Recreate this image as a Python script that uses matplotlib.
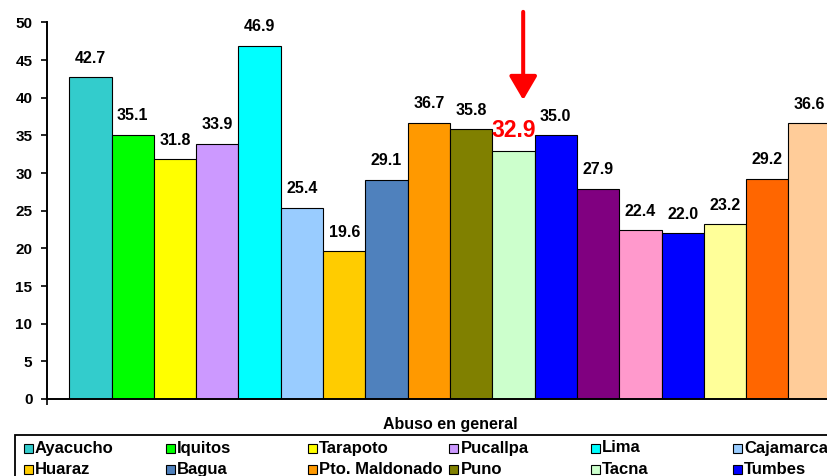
import matplotlib.pyplot as plt
from matplotlib.patches import Rectangle

plt.rcParams['font.family'] = ['Liberation Sans', 'DejaVu Sans']
plt.rcParams['font.weight'] = 'bold'

# Data: one category ("Abuso en general"), 18 cities as series
cities = ['Ayacucho', 'Iquitos', 'Tarapoto', 'Pucallpa', 'Lima', 'Cajamarca',
          'Huaraz', 'Bagua', 'Pto. Maldonado', 'Puno', 'Tacna', 'Tumbes']
values = [42.7, 35.1, 31.8, 33.9, 46.9, 25.4, 19.6, 29.1, 36.7, 35.8, 32.9, 35.0,
          27.9, 22.4, 22.0, 23.2, 29.2, 36.6]
colors = ['#33CCCC', '#00FF00', '#FFFF00', '#CC99FF', '#00FFFF', '#99CCFF',
          '#FFCC00', '#4F81BD', '#FF9900', '#808000', '#CCFFCC', '#0000FF',
          '#800080', '#FF99CC', '#0000FF', '#FFFF99', '#FF6600', '#FFCC99']
highlight = 10  # Tacna
yticks = [0, 5, 10, 15, 20, 25, 30, 35, 40, 45, 50]

W, H = 827, 476
fig = plt.figure(figsize=(W / 100, H / 100), dpi=100)
# axes runs past the right edge of the figure, like the cropped original
ax = fig.add_axes([46.7 / W, 77 / H, 806.6 / W, 376.6 / H])

xs = list(range(len(values)))
ax.bar(xs, values, width=1.0, color=colors, edgecolor='black', linewidth=0.8)

for i, v in enumerate(values):
    if i == highlight:
        ax.annotate(f'{v:.1f}', (i, v), xytext=(0, 10.5), textcoords='offset points',
                    ha='center', va='baseline', fontsize=16.5, color='red',
                    fontweight='bold', annotation_clip=False)
    else:
        ax.annotate(f'{v:.1f}', (i, v), xytext=(0, 10.5), textcoords='offset points',
                    ha='center', va='baseline', fontsize=11.5, color='black',
                    fontweight='bold', annotation_clip=False)

# red arrow pointing at Tacna
ax.annotate('', xy=(highlight + 0.23, 39.7), xytext=(highlight + 0.23, 51.4),
            arrowprops=dict(arrowstyle='-|>,head_length=1.45,head_width=0.85',
                            color='red', lw=2.9, shrinkA=0, shrinkB=0),
            annotation_clip=False)

xmin = -1.034
ax.set_xlim(xmin, 18.034)
ax.set_ylim(0, 50)
ax.set_yticks(yticks)
ax.set_xticks([xmin])
ax.set_xticklabels([])
ax.tick_params(axis='y', direction='out', length=4.3, width=1.2, pad=6,
               labelsize=11, labelcolor='black')
ax.tick_params(axis='x', direction='out', length=4.3, width=1.2)
for lab in ax.get_yticklabels():
    lab.set_fontweight('bold')
for s in ['top', 'right']:
    ax.spines[s].set_visible(False)
for s in ['left', 'bottom']:
    ax.spines[s].set_linewidth(1.4)

fig.text(450 / W, 1 - 425 / H, 'Abuso en general', ha='center', va='center',
         fontsize=11.5, fontweight='bold')

# legend box (cut off at bottom and right like the original)
fig.patches.append(Rectangle((15 / W, -0.1), 1.2, (H - 435) / H + 0.1,
                             transform=fig.transFigure, fill=False,
                             edgecolor='black', linewidth=1.3))
for k, name in enumerate(cities):
    col, row = k % 6, k // 6
    x0 = 24 + col * 141.8
    yc = 448 + row * 21.5
    fig.patches.append(Rectangle((x0 / W, 1 - (yc + 4.5) / H), 9 / W, 9 / H,
                                 transform=fig.transFigure, facecolor=colors[k],
                                 edgecolor='black', linewidth=0.8))
    fig.text((x0 + 11) / W, 1 - yc / H, name, ha='left', va='center',
             fontsize=12, fontweight='bold')

fig.savefig('out.png', dpi=100)
